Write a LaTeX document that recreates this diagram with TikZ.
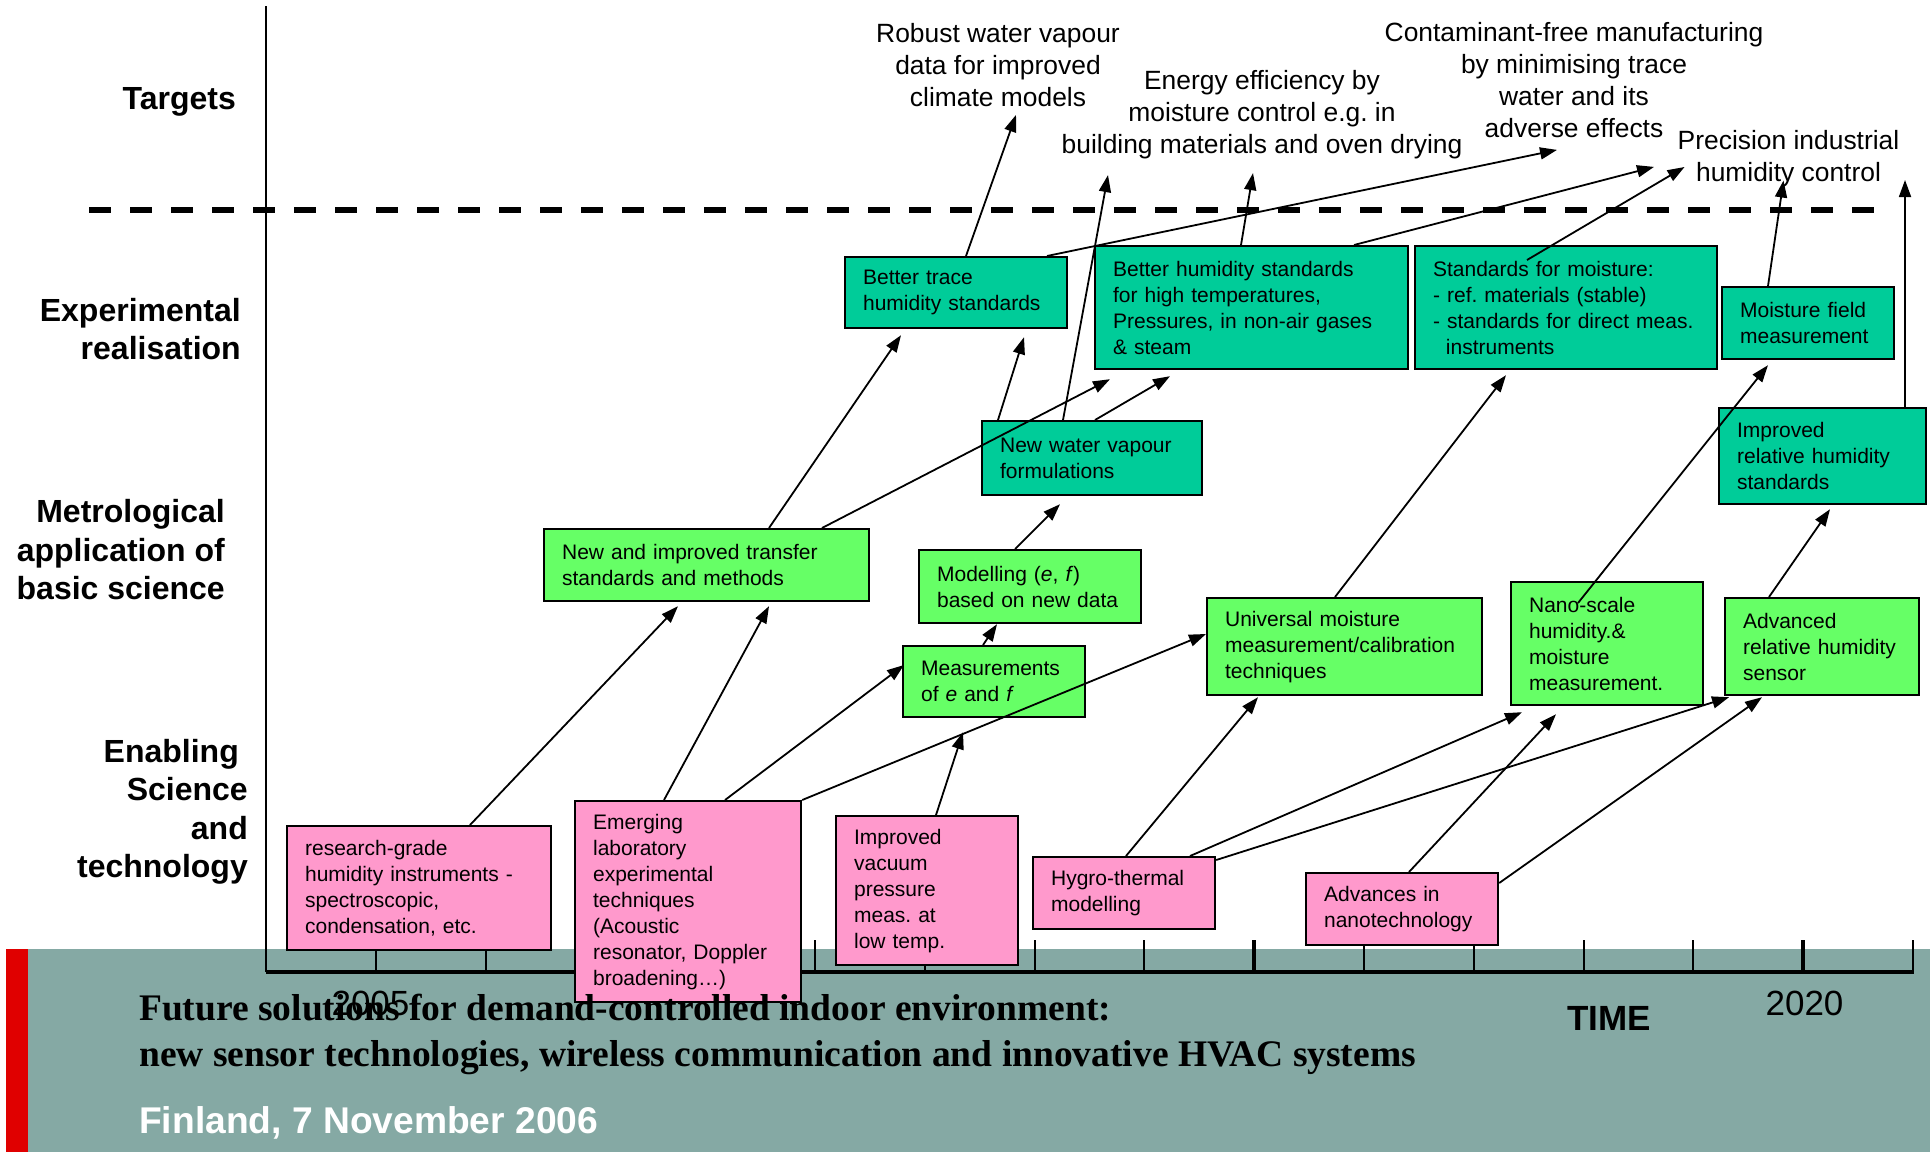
\documentclass[tikz,border=0pt]{standalone}
\usepackage{fontspec}
\setmainfont{Liberation Sans}
\newfontfamily\serifhead{Liberation Serif}
\usepackage{tikz}
\usetikzlibrary{arrows.meta}

\definecolor{pinkfill}{HTML}{FF99CC}
\definecolor{limefill}{HTML}{66FF66}
\definecolor{tealfill}{HTML}{00CC99}
\definecolor{bandteal}{HTML}{85A9A4}
\definecolor{stripred}{HTML}{E00000}

\frenchspacing
\newcommand{\boxfont}{\fontsize{21}{26}\selectfont\hyphenpenalty=10000 }

\begin{document}
\begin{tikzpicture}[x=1pt, y=-1pt,
  box/.style={draw=black, line width=2.2pt, anchor=north west, align=left,
    inner xsep=18pt, inner ysep=6pt, font=\boxfont},
  pinkbox/.style={box, fill=pinkfill},
  limebox/.style={box, fill=limefill},
  tealbox/.style={box, fill=tealfill},
  dims/.style 2 args={text width=#1, minimum height=#2},
  conn/.style={line width=1.8pt, -{Triangle[length=17pt,width=12pt]}},
  lvl/.style={anchor=east, align=right, inner sep=0pt, font=\fontsize{32}{38.5}\selectfont\bfseries},
  goal/.style={align=center, inner sep=0pt, font=\fontsize{26.4}{32}\selectfont}]
\useasboundingbox (0,0) rectangle (1930,1152);
% footer band
\fill[bandteal] (6,949) rectangle (1930,1152);
\fill[stripred] (6,949) rectangle (28,1152);
% axes
\draw[line width=2.5pt] (266,6) -- (266,972);
\draw[line width=3.5pt] (266,972) -- (1914,972);
\foreach \k in {1,...,15}
  \draw[line width=2pt] (266+109.8*\k,940) -- (266+109.8*\k,972);
\foreach \k in {4,9,14}
  \draw[line width=4pt] (266+109.8*\k,940) -- (266+109.8*\k,972);
\draw[line width=6pt, dash pattern=on 22pt off 19pt] (89,209.5) -- (1877,209.5);
% levels
\node[lvl] (ltarg) at (236,102) {Targets};
\node[lvl] (lexp) at (241,329) {Experimental\\realisation};
\node[lvl] (lmet) at (225,550) {Metrological\\application of\\basic science};
\node[lvl] (lena) at (248,812) {Enabling\hspace*{9pt}\\Science\\and\hspace*{9pt}\\technology};
% targets
\node[goal] (T1) at (998,65) {Robust water vapour\\data for improved\\climate models};
\node[goal] (T2) at (1262,114.6) {Energy efficiency by\\moisture control e.g. in\\building materials and oven drying};
\node[goal] (T3) at (1574,80) {Contaminant-free manufacturing\\by minimising trace\\water and its\\adverse effects};
\node[goal] (T4) at (1788.5,159) {Precision industrial\\humidity control};
\coordinate (rhend) at (1905,180);
% enabling science and technology
\node[pinkbox, dims={228pt}{124pt}] (RG) at (286,825) {research-grade\\humidity instruments -\\spectroscopic,\\condensation, etc.};
\node[pinkbox, dims={190pt}{201pt}] (EM) at (574,800) {Emerging\\laboratory\\experimental\\techniques\\(Acoustic\\resonator, Doppler\\broadening\ldots)};
\node[pinkbox, dims={146pt}{149pt}] (VAC) at (835,815) {Improved\\vacuum\\pressure\\meas. at\\low temp.};
\node[pinkbox, dims={146pt}{72pt}] (HT) at (1032,856) {Hygro-thermal\\modelling};
\node[pinkbox, dims={156pt}{72pt}] (NT) at (1305,872) {Advances in\\nanotechnology};
% metrological application
\node[limebox, dims={289pt}{72pt}] (NIT) at (543,528) {New and improved transfer\\standards and methods};
\node[limebox, dims={186pt}{73pt}] (MOD) at (918,549) {Modelling (\textit{e}, \textit{f})\\based on new data};
\node[limebox, dims={146pt}{71pt}] (MEAS) at (902,645) {Measurements\\of \textit{e} and \textit{f}};
\node[limebox, dims={239pt}{97pt}] (UNI) at (1206,597) {Universal moisture\\measurement/calibration\\techniques};
\node[limebox, dims={156pt}{123pt}] (NANO) at (1510,581) {Nano-scale\\humidity.\&\\moisture\\measurement.};
\node[limebox, dims={158pt}{97pt}] (ADV) at (1724,597) {Advanced\\relative humidity\\sensor};
% experimental realisation
\node[tealbox, dims={186pt}{71pt}] (BTR) at (844,256) {Better trace\\humidity standards};
\node[tealbox, dims={277pt}{123pt}] (BHS) at (1094,245) {Better humidity standards\\for high temperatures,\\Pressures, in non-air gases\\\& steam};
\node[tealbox, dims={266pt}{123pt}] (STD) at (1414,245) {Standards for moisture:\\- ref. materials (stable)\\- standards for direct meas.\\\hspace*{0.61em}instruments};
\node[tealbox, dims={136pt}{72pt}] (MFM) at (1721,286) {Moisture field\\measurement};
\node[tealbox, dims={184pt}{74pt}] (NWV) at (981,420) {New water vapour\\formulations};
\node[tealbox, dims={171pt}{96pt}] (IRHS) at (1718,407) {Improved\\relative humidity\\standards};
% links
\draw[conn] ([xshift=184pt]RG.north west) -- ([xshift=135pt,yshift=-4pt]NIT.south west);
\draw[conn] ([xshift=90pt]EM.north west) -- ([xshift=226pt,yshift=-4pt]NIT.south west);
\draw[conn] ([xshift=151pt]EM.north west) -- ([xshift=2pt,yshift=-20pt]MEAS.north west);
\draw[conn] (EM.north east) -- ([yshift=-37pt]UNI.north west);
\draw[conn] ([xshift=101pt]VAC.north west) -- ([xshift=61pt,yshift=-14pt]MEAS.south west);
\draw[conn] ([xshift=81pt]MEAS.north west) -- ([xshift=79pt]MOD.south west);
\draw[conn] ([xshift=97pt]MOD.north west) -- ([xshift=79pt,yshift=-8pt]NWV.south west);
\draw[conn] ([xshift=226pt]NIT.north west) -- ([xshift=57pt,yshift=-6pt]BTR.south west);
\draw[conn] ([xshift=279pt]NIT.north west) -- ([xshift=16pt,yshift=-9pt]BHS.south west);
\draw[conn] ([xshift=17pt]NWV.north west) -- ([xshift=180pt,yshift=-8pt]BTR.south west);
\draw[conn] ([xshift=82pt]NWV.north west) -- ([xshift=-154pt,yshift=-16pt]T2.south);
\draw[conn] ([xshift=114pt]NWV.north west) -- ([xshift=76pt,yshift=-6pt]BHS.south west);
\draw[conn] ([xshift=122pt]BTR.north west) -- ([xshift=18pt,yshift=-8pt]T1.south);
\draw[conn] ([xshift=203pt]BTR.north west) -- ([xshift=-17pt,yshift=-12pt]T3.south);
\draw[conn] ([xshift=147pt]BHS.north west) -- ([xshift=-9pt,yshift=-14pt]T2.south);
\draw[conn] ([xshift=260pt]BHS.north west) -- ([xshift=80pt,yshift=-29pt]T3.south);
\draw[conn] ([xshift=113pt,yshift=-15pt]STD.north west) -- ([xshift=7pt,yshift=-8pt]T4.west);
\draw[conn] ([xshift=47pt]MFM.north west) -- ([xshift=-5pt,yshift=7pt]T4.south);
\draw[conn] (IRHS.north east -| rhend) -- (rhend);
\draw[conn] ([xshift=129pt]UNI.north west) -- ([xshift=92pt,yshift=-5pt]STD.south west);
\draw[conn] ([xshift=68pt,yshift=-22pt]NANO.north west) -- ([xshift=47pt,yshift=-5pt]MFM.south west);
\draw[conn] ([xshift=45pt]ADV.north west) -- ([xshift=112pt,yshift=-4pt]IRHS.south west);
\draw[conn] ([xshift=94pt]HT.north west) -- ([xshift=52pt,yshift=-1pt]UNI.south west);
\draw[conn] ([xshift=158pt]HT.north west) -- ([xshift=12pt,yshift=-6pt]NANO.south west);
\draw[conn] ([yshift=-4pt]HT.north east) -- ([xshift=5pt,yshift=-1pt]ADV.south west);
\draw[conn] ([xshift=104pt]NT.north west) -- ([xshift=46pt,yshift=-8pt]NANO.south west);
\draw[conn] ([yshift=-11pt]NT.north east) -- ([xshift=38pt,yshift=-1pt]ADV.south west);
% time axis and footer
\node[anchor=base, inner sep=0pt, font=\fontsize{35}{40}\selectfont] (y05) at (370.5,1015) {2005};
\node[anchor=base, inner sep=0pt, font=\fontsize{35}{40}\selectfont] (y20) at (1804.5,1015) {2020};
\node[anchor=base, inner sep=0pt, font=\fontsize{35}{40}\selectfont\bfseries] (time) at (1609,1030) {TIME};
\node[anchor=base west, inner sep=0pt, font=\serifhead\bfseries\fontsize{37.5}{44}\selectfont] (ttl1) at (139,1020) {Future solutions for demand-controlled indoor environment:};
\node[anchor=base west, inner sep=0pt, font=\serifhead\bfseries\fontsize{37.5}{44}\selectfont] (ttl2) at (139,1066) {new sensor technologies, wireless communication and innovative HVAC systems};
\node[anchor=base west, inner sep=0pt, text=white, font=\fontsize{37.2}{44}\selectfont\bfseries] (place) at (139,1133) {Finland, 7 November 2006};
\end{tikzpicture}
\end{document}
